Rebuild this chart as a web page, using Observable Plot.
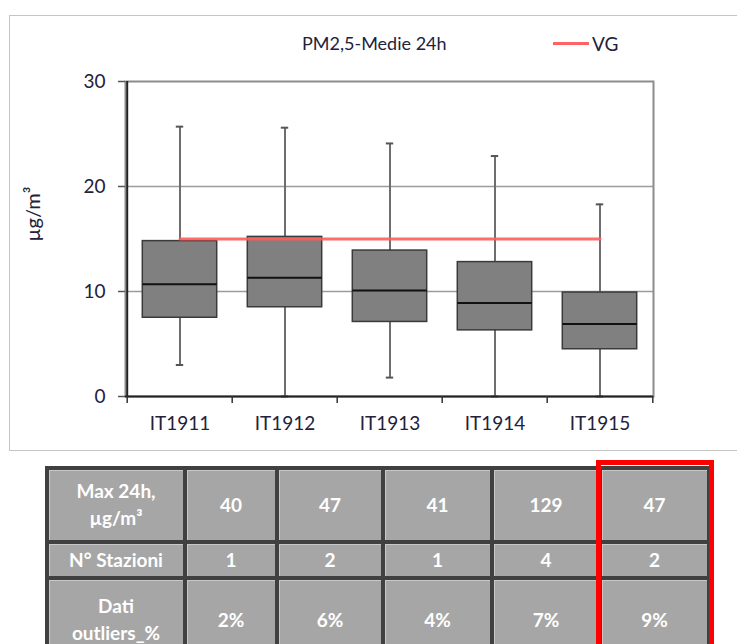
<!DOCTYPE html>
<html>
<head>
<meta charset="utf-8">
<script src="https://cdn.jsdelivr.net/npm/d3@7"></script>
<script src="https://cdn.jsdelivr.net/npm/@observablehq/plot@0.6"></script>
<style>
  html, body { margin: 0; padding: 0; background: #fff; }
  #wrap { position: relative; width: 737px; height: 644px; overflow: hidden; font-family: Lato, "Open Sans", sans-serif; }
  #frame { position: absolute; left: 9px; top: 15px; width: 760px; height: 436px; border: 1px solid #c4c4c4; box-sizing: border-box; }
  #chart { position: absolute; left: 0; top: 0; }
  #title { position: absolute; top: 32px; left: 302px; font-size: 18px; color: #22223a; white-space: nowrap; }
  #legend { position: absolute; top: 32px; left: 553px; font-size: 19px; color: #22223a; display: flex; align-items: center; }
  #legend .sw { width: 36px; height: 3px; background: #ff6464; margin-right: 3px; }
  #ylabel { position: absolute; left: 32px; top: 214px; transform: translate(-50%, -50%) rotate(-90deg); font-size: 20px; color: #22223a; white-space: nowrap; }
  #tbl { position: absolute; left: 45px; top: 466px; background: #404040; display: grid; gap: 4px; padding: 4px; }
  #tbl div.c { background: #a6a6a6; color: #fff; font-weight: 700; font-size: 19px; display: flex; align-items: center; justify-content: center; text-align: center; line-height: 1.4; box-shadow: inset 1px 1px 0 #c8c8c8; }
  #redbox { position: absolute; left: 596px; top: 460px; width: 118px; height: 220px; border: 5px solid #ff0000; box-sizing: border-box; }
</style>
</head>
<body>
<div id="wrap">
  <div id="frame"></div>
  <div id="chart"></div>
  <div id="title"></div>
  <div id="legend"><div class="sw"></div><span id="legtext"></span></div>
  <div id="ylabel"></div>
  <div id="tbl"></div>
  <div id="redbox"></div>
</div>
<script>
// ---- data ----
const stations = ["IT1911", "IT1912", "IT1913", "IT1914", "IT1915"];
const whiskerLow  = [3.0, 0.0, 1.8, 0.0, 0.0];
const q1          = [7.5, 8.5, 7.1, 6.3, 4.5];
const median      = [10.7, 11.3, 10.1, 8.9, 6.9];
const q3          = [14.8, 15.2, 13.9, 12.8, 9.9];
const whiskerHigh = [25.7, 25.6, 24.1, 22.9, 18.3];
const vgValue = 15;
const yTicks = [0, 10, 20, 30];
const titleText = "PM2,5-Medie 24h";
const legendLabel = "VG";
const yLabel = "µg/m³";

const rowLabels = ["Max 24h,<br>µg/m³", "N° Stazioni", "Dati<br>outliers_%"];
const maxValues = ["40", "47", "41", "129", "47"];
const nStations = ["1", "2", "1", "4", "2"];
const outliers = ["2%", "6%", "4%", "7%", "9%"];

// ---- layout ----
const W = 737, H = 460, mL = 125, mR = 84, mT = 81, mB = 64;
const bw = (W - mL - mR) / stations.length;
const boxInset = (bw - 75) / 2;
const capInset = (bw - 8) / 2;

const rows = stations.map((s, i) => ({
  station: s, low: whiskerLow[i], q1: q1[i], median: median[i], q3: q3[i], high: whiskerHigh[i]
}));
const vgRows = [{station: stations[0], v: vgValue}, {station: stations[stations.length - 1], v: vgValue}];

const plot = Plot.plot({
  width: W, height: H,
  marginLeft: mL, marginRight: mR, marginTop: mT, marginBottom: mB,
  style: {background: "transparent", fontFamily: "Lato, 'Open Sans', sans-serif", fontSize: "19px", color: "#22223a"},
  x: {type: "band", domain: stations, padding: 0, axis: null},
  y: {domain: [0, 30], axis: null},
  marks: [
    Plot.gridY(yTicks.filter(t => t > 0 && t < 30), {stroke: "#9c9c9c", strokeOpacity: 1, strokeWidth: 1.5}),
    Plot.frame({stroke: "#8c8c8c", strokeWidth: 2}),
    Plot.axisY({ticks: yTicks, tickSize: 7, tickPadding: 13, fontSize: 19, fill: "#22223a", stroke: "#555", strokeWidth: 1.5, label: null}),
    Plot.ruleX(rows, {x: "station", y1: "low", y2: "high", stroke: "#6e6e6e", strokeWidth: 2}),
    Plot.tickY(rows, {x: "station", y: "low", insetLeft: capInset, insetRight: capInset, stroke: "#555", strokeWidth: 2}),
    Plot.tickY(rows, {x: "station", y: "high", insetLeft: capInset, insetRight: capInset, stroke: "#555", strokeWidth: 2}),
    Plot.barY(rows, {x: "station", y1: "q1", y2: "q3", insetLeft: boxInset, insetRight: boxInset, fill: "#808080", stroke: "#3a3a3a", strokeWidth: 1.5}),
    Plot.tickY(rows, {x: "station", y: "median", insetLeft: boxInset, insetRight: boxInset, stroke: "#111", strokeWidth: 2}),
    Plot.lineY(vgRows, {x: "station", y: "v", stroke: "#ff5c5c", strokeWidth: 3, strokeOpacity: 0.9}),
    Plot.ruleX([stations[0]], {x: d => d, y1: 0, y2: 30, dx: -bw / 2, stroke: "#222", strokeWidth: 2}),
    Plot.ruleY([0], {stroke: "#222", strokeWidth: 2}),
    Plot.ruleX(stations, {x: d => d, y1: 0, y2: 0, insetBottom: -7, dx: -bw / 2, stroke: "#333", strokeWidth: 1.5}),
    Plot.ruleX([stations[stations.length - 1]], {x: d => d, y1: 0, y2: 0, insetBottom: -7, dx: bw / 2, stroke: "#333", strokeWidth: 1.5}),
    Plot.axisX({tickSize: 0, tickPadding: 20, fontSize: 19, fill: "#22223a", label: null})
  ]
});
document.getElementById("chart").appendChild(plot);
document.getElementById("title").textContent = titleText;
document.getElementById("legtext").textContent = legendLabel;
document.getElementById("ylabel").textContent = yLabel;

// ---- table ----
const tbl = document.getElementById("tbl");
tbl.style.gridTemplateColumns = "134px 88px 102px 105px 104px 105px";
tbl.style.gridTemplateRows = "70px 32px 80px";
const tableRows = [maxValues, nStations, outliers];
tableRows.forEach((vals, r) => {
  const h = document.createElement("div");
  h.className = "c";
  h.innerHTML = rowLabels[r];
  tbl.appendChild(h);
  vals.forEach(v => {
    const c = document.createElement("div");
    c.className = "c";
    c.textContent = v;
    tbl.appendChild(c);
  });
});
</script>
</body>
</html>
